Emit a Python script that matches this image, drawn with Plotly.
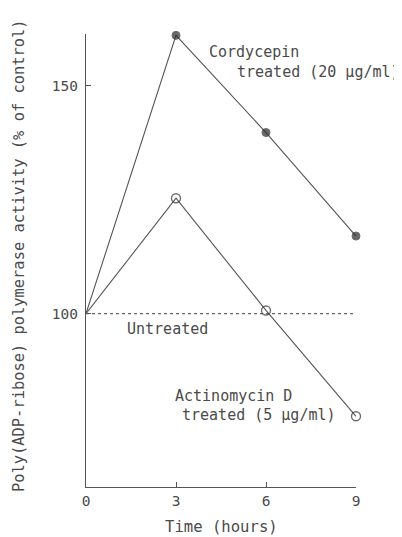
import plotly.graph_objects as go

time_h = [0, 3, 6, 9]
cordycepin = [100, 161, 139.7, 117]
actinomycin = [100, 125.3, 100.7, 77.5]
untreated_x = [0, 9]
untreated_y = [100, 100]
x_ticks = [0, 3, 6, 9]
y_ticks = [100, 150]

FONT = "DejaVu Sans Mono"
TXT = "#4a4a4a"
LINE = "#555555"
msize_fill = [0, 8, 8, 8]
msize_open = [0, 9, 9, 9]

fig = go.Figure()
fig.add_trace(go.Scatter(x=untreated_x, y=untreated_y, mode="lines",
                         line=dict(color="#666666", width=1.2, dash="dot"),
                         cliponaxis=False, showlegend=False))
fig.add_trace(go.Scatter(x=time_h, y=cordycepin, mode="lines+markers",
                         line=dict(color=LINE, width=1.1),
                         marker=dict(symbol="circle", size=msize_fill, color="#2a2a2a",
                                     line=dict(color="#2a2a2a", width=1)),
                         cliponaxis=False, showlegend=False))
fig.add_trace(go.Scatter(x=time_h, y=actinomycin, mode="lines+markers",
                         line=dict(color=LINE, width=1.1),
                         marker=dict(symbol="circle-open", size=msize_open, color="#333333",
                                     line=dict(width=1.4)),
                         cliponaxis=False, showlegend=False))

def ann(x, y, text, xref="x", yref="y", angle=0, xanchor="left", size=15):
    fig.add_annotation(x=x, y=y, xref=xref, yref=yref, text=text, showarrow=False,
                       xanchor=xanchor, yanchor="middle", textangle=angle,
                       font=dict(family=FONT, size=size, color=TXT))

ann(4.03, 157.4, "Cordycepin")
ann(4.97, 153.0, "treated (20 μg/ml)")
ann(1.3, 96.7, "Untreated")
ann(2.9, 81.9, "Actinomycin D")
ann(3.13, 77.7, "treated (5 μg/ml)")
ann(-0.248, 0.51, "Poly(ADP-ribose) polymerase activity (% of control)",
    xref="paper", yref="paper", angle=-90, xanchor="center", size=15.4)
ann(0.5, -0.088, "Time (hours)", xref="paper", yref="paper", xanchor="center", size=15.6)

fig.update_layout(
    width=394, height=529,
    margin=dict(l=78, r=46, t=26, b=50),
    paper_bgcolor="white", plot_bgcolor="white",
    font=dict(family=FONT, size=14.5, color=TXT),
    xaxis=dict(range=[0, 9], tickvals=x_ticks, ticks="inside", ticklen=5,
               tickcolor=LINE, showline=True, linecolor=LINE, linewidth=1.2,
               showgrid=False, zeroline=False, fixedrange=True),
    yaxis=dict(range=[62, 161.3], tickvals=y_ticks, ticks="inside", ticklen=5,
               tickcolor=LINE, showline=True, linecolor=LINE, linewidth=1.2,
               showgrid=False, zeroline=False, ticklabelstandoff=4),
)

fig.write_html("out.html")
